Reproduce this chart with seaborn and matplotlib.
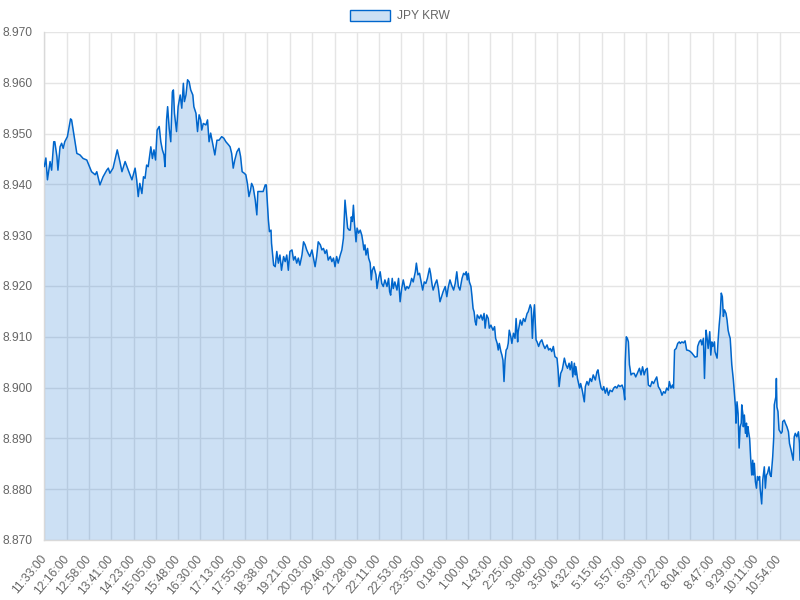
"""
JPY/KRW intraday rate, filled line chart.
"""

import matplotlib
matplotlib.use("Agg")
import matplotlib.pyplot as plt
from matplotlib.patches import Patch
import seaborn as sns
import pandas as pd

# minutes elapsed since 11:33:00 and the rate read at that moment
elapsed_min = [
    0, 3, 6, 11, 14, 18, 20, 24, 26, 30,
    33, 36, 39, 44, 50, 52, 55, 62, 68, 74,
    81, 90, 97, 100, 106, 112, 119, 122, 125, 131,
    139, 144, 148, 154, 160, 167, 173, 176, 179, 182,
    186, 189, 192, 195, 198, 203, 206, 209, 212, 215,
    219, 222, 225, 228, 230, 233, 235, 238, 241, 244,
    246, 248, 252, 255, 259, 262, 265, 267, 270, 273,
    276, 279, 283, 285, 289, 292, 295, 298, 300, 303,
    308, 311, 314, 317, 322, 325, 329, 333, 338, 342,
    346, 351, 354, 357, 360, 363, 367, 371, 374, 377,
    381, 384, 387, 390, 393, 395, 398, 402, 405, 407,
    411, 417, 421, 423, 425, 427, 429, 432, 433, 437,
    440, 443, 446, 449, 452, 456, 459, 462, 465, 468,
    472, 475, 478, 481, 484, 487, 491, 494, 497, 500,
    503, 506, 510, 513, 516, 519, 522, 526, 529, 532,
    535, 538, 541, 545, 548, 551, 554, 557, 560, 564,
    567, 570, 573, 575, 578, 581, 583, 585, 587, 589,
    591, 594, 596, 599, 602, 605, 607, 609, 611, 613,
    616, 618, 621, 623, 625, 628, 632, 634, 637, 640,
    643, 646, 649, 653, 656, 658, 660, 663, 665, 668,
    672, 675, 678, 681, 684, 688, 691, 694, 697, 700,
    703, 707, 709, 712, 715, 718, 721, 724, 727, 730,
    734, 736, 739, 741, 745, 748, 751, 754, 757, 760,
    764, 767, 770, 773, 776, 780, 783, 786, 789, 792,
    796, 799, 802, 804, 806, 808, 810, 813, 815, 817,
    819, 821, 823, 825, 829, 832, 835, 838, 840, 843,
    846, 848, 851, 855, 858, 860, 863, 865, 867, 870,
    872, 874, 876, 878, 880, 882, 884, 886, 889, 891,
    894, 897, 899, 902, 903, 907, 910, 913, 916, 920,
    922, 926, 928, 930, 932, 934, 937, 939, 942, 945,
    948, 951, 954, 958, 961, 964, 967, 970, 973, 977,
    979, 981, 984, 987, 991, 994, 997, 1000, 1002, 1005,
    1007, 1010, 1012, 1013, 1016, 1018, 1020, 1022, 1025, 1029,
    1031, 1034, 1037, 1040, 1043, 1046, 1050, 1053, 1055, 1058,
    1061, 1064, 1066, 1069, 1072, 1075, 1078, 1082, 1085, 1088,
    1091, 1094, 1097, 1101, 1104, 1106, 1107, 1109, 1111, 1113,
    1115, 1118, 1121, 1124, 1127, 1130, 1134, 1137, 1140, 1143,
    1146, 1149, 1151, 1155, 1158, 1161, 1164, 1167, 1170, 1174,
    1177, 1180, 1183, 1186, 1189, 1191, 1194, 1197, 1199, 1201,
    1204, 1207, 1210, 1212, 1215, 1218, 1221, 1224, 1228, 1231,
    1234, 1237, 1240, 1244, 1245, 1248, 1251, 1253, 1256, 1258,
    1261, 1263, 1265, 1268, 1270, 1272, 1274, 1277, 1278, 1282,
    1284, 1286, 1288, 1290, 1292, 1294, 1296, 1299, 1301, 1303,
    1305, 1307, 1310, 1313, 1315, 1317, 1318, 1320, 1322, 1324,
    1326, 1328, 1329, 1331, 1332, 1334, 1336, 1338, 1339, 1341,
    1342, 1344, 1346, 1348, 1350, 1351, 1353, 1355, 1357, 1359,
    1361, 1363, 1364, 1367, 1369, 1372, 1374, 1376, 1378, 1381,
    1383, 1385, 1388, 1390, 1391, 1394, 1395, 1396, 1398, 1400,
    1404, 1406, 1407, 1410, 1412, 1415, 1418, 1420, 1423, 1425,
    1427, 1429, 1431, 1434, 1437, 1439, 1440,
]

rate = [
    8.9435, 8.9452, 8.9409, 8.9445, 8.9428, 8.9484, 8.9484, 8.9455, 8.9428, 8.9474,
    8.9481, 8.9471, 8.9484, 8.9494, 8.9529, 8.9527, 8.9507, 8.9461, 8.9458, 8.9451,
    8.9448, 8.9425, 8.9419, 8.9425, 8.9399, 8.9415, 8.9428, 8.9432, 8.9422, 8.9432,
    8.9468, 8.9445, 8.9425, 8.9445, 8.9428, 8.9409, 8.9432, 8.9409, 8.9376, 8.9402,
    8.9382, 8.9415, 8.9412, 8.9438, 8.9435, 8.9474, 8.9451, 8.9468, 8.9448, 8.9507,
    8.9514, 8.9484, 8.9468, 8.9458, 8.9435, 8.9527, 8.9553, 8.9510, 8.9484, 8.9582,
    8.9586, 8.9540, 8.9504, 8.9553, 8.9576, 8.9550, 8.9599, 8.9563, 8.9576, 8.9606,
    8.9602, 8.9586, 8.9576, 8.9553, 8.9540, 8.9504, 8.9537, 8.9527, 8.9507, 8.9520,
    8.9517, 8.9527, 8.9484, 8.9501, 8.9474, 8.9458, 8.9487, 8.9487, 8.9494, 8.9491,
    8.9484, 8.9478, 8.9474, 8.9461, 8.9432, 8.9448, 8.9464, 8.9471, 8.9455, 8.9425,
    8.9422, 8.9419, 8.9402, 8.9376, 8.9389, 8.9402, 8.9395, 8.9369, 8.9340, 8.9386,
    8.9386, 8.9386, 8.9399, 8.9399, 8.9363, 8.9330, 8.9307, 8.9310, 8.9284, 8.9241,
    8.9238, 8.9268, 8.9245, 8.9261, 8.9231, 8.9258, 8.9248, 8.9261, 8.9231, 8.9268,
    8.9271, 8.9251, 8.9258, 8.9245, 8.9255, 8.9241, 8.9261, 8.9287, 8.9281, 8.9271,
    8.9264, 8.9258, 8.9271, 8.9255, 8.9238, 8.9258, 8.9287, 8.9281, 8.9271, 8.9274,
    8.9264, 8.9271, 8.9251, 8.9258, 8.9248, 8.9255, 8.9238, 8.9258, 8.9245, 8.9261,
    8.9271, 8.9294, 8.9369, 8.9346, 8.9314, 8.9310, 8.9310, 8.9336, 8.9327, 8.9359,
    8.9323, 8.9287, 8.9314, 8.9304, 8.9310, 8.9300, 8.9287, 8.9271, 8.9281, 8.9261,
    8.9274, 8.9255, 8.9245, 8.9212, 8.9231, 8.9238, 8.9222, 8.9195, 8.9215, 8.9228,
    8.9205, 8.9199, 8.9212, 8.9199, 8.9215, 8.9189, 8.9182, 8.9215, 8.9195, 8.9208,
    8.9192, 8.9215, 8.9169, 8.9195, 8.9212, 8.9192, 8.9199, 8.9195, 8.9202, 8.9215,
    8.9208, 8.9228, 8.9245, 8.9222, 8.9225, 8.9208, 8.9192, 8.9208, 8.9205, 8.9215,
    8.9235, 8.9225, 8.9202, 8.9192, 8.9205, 8.9212, 8.9195, 8.9169, 8.9179, 8.9189,
    8.9199, 8.9179, 8.9199, 8.9212, 8.9202, 8.9192, 8.9205, 8.9228, 8.9199, 8.9192,
    8.9215, 8.9225, 8.9222, 8.9228, 8.9212, 8.9225, 8.9208, 8.9199, 8.9179, 8.9156,
    8.9149, 8.9130, 8.9123, 8.9143, 8.9136, 8.9143, 8.9133, 8.9146, 8.9117, 8.9143,
    8.9136, 8.9117, 8.9123, 8.9113, 8.9120, 8.9097, 8.9087, 8.9074, 8.9087, 8.9071,
    8.9064, 8.9054, 8.9012, 8.9054, 8.9074, 8.9077, 8.9087, 8.9113, 8.9100, 8.9087,
    8.9107, 8.9097, 8.9136, 8.9090, 8.9110, 8.9133, 8.9123, 8.9136, 8.9130, 8.9146,
    8.9149, 8.9163, 8.9156, 8.9097, 8.9140, 8.9163, 8.9094, 8.9090, 8.9081, 8.9090,
    8.9094, 8.9084, 8.9077, 8.9084, 8.9074, 8.9077, 8.9071, 8.9081, 8.9061, 8.9058,
    8.9035, 8.9002, 8.9028, 8.9035, 8.9058, 8.9045, 8.9038, 8.9048, 8.9035, 8.9051,
    8.9021, 8.9048, 8.9025, 8.9041, 8.9018, 8.9008, 8.8999, 8.9008, 8.8995, 8.8972,
    8.9002, 8.9012, 8.9005, 8.9018, 8.9012, 8.9025, 8.9015, 8.9031, 8.9035, 8.9015,
    8.8999, 8.8995, 8.9002, 8.8989, 8.8999, 8.8985, 8.8995, 8.8992, 8.8999, 8.9002,
    8.8999, 8.9005, 8.9002, 8.9005, 8.8995, 8.8976, 8.9051, 8.9100, 8.9097, 8.9090,
    8.9045, 8.9025, 8.9028, 8.9028, 8.9021, 8.9028, 8.9038, 8.9025, 8.9041, 8.9025,
    8.9035, 8.9038, 8.9005, 8.9002, 8.9012, 8.9008, 8.9015, 8.9021, 8.9002, 8.8995,
    8.8985, 8.8992, 8.8989, 8.8999, 8.8995, 8.9012, 8.8999, 8.9005, 8.8999, 8.9074,
    8.9077, 8.9087, 8.9090, 8.9087, 8.9090, 8.9088, 8.9092, 8.9074, 8.9073, 8.9071,
    8.9068, 8.9064, 8.9060, 8.9061, 8.9081, 8.9090, 8.9094, 8.9084, 8.9097, 8.9018,
    8.9113, 8.9097, 8.9077, 8.9110, 8.9064, 8.9090, 8.9081, 8.9090, 8.9071, 8.9058,
    8.9094, 8.9123, 8.9146, 8.9186, 8.9179, 8.9140, 8.9153, 8.9146, 8.9133, 8.9113,
    8.9104, 8.9097, 8.9045, 8.9015, 8.8989, 8.8962, 8.8930, 8.8972, 8.8949, 8.8881,
    8.8923, 8.8930, 8.8966, 8.8949, 8.8923, 8.8946, 8.8910, 8.8930, 8.8903, 8.8923,
    8.8913, 8.8900, 8.8861, 8.8828, 8.8857, 8.8828, 8.8851, 8.8815, 8.8802, 8.8825,
    8.8818, 8.8825, 8.8802, 8.8771, 8.8818, 8.8844, 8.8802, 8.8828, 8.8831, 8.8844,
    8.8828, 8.8825, 8.8864, 8.8903, 8.8966, 8.8982, 8.9018, 8.8962, 8.8953, 8.8917,
    8.8910, 8.8913, 8.8933, 8.8936, 8.8930, 8.8923, 8.8913, 8.8890, 8.8877, 8.8867,
    8.8857, 8.8903, 8.8910, 8.8903, 8.8913, 8.8890, 8.8857,
]

tick_labels = [
    "11:33:00", "12:16:00", "12:58:00", "13:41:00", "14:23:00", "15:05:00",
    "15:48:00", "16:30:00", "17:13:00", "17:55:00", "18:38:00", "19:21:00",
    "20:03:00", "20:46:00", "21:28:00", "22:11:00", "22:53:00", "23:35:00",
    "0:18:00", "1:00:00", "1:43:00", "2:25:00", "3:08:00", "3:50:00",
    "4:32:00", "5:15:00", "5:57:00", "6:39:00", "7:22:00", "8:04:00",
    "8:47:00", "9:29:00", "10:11:00", "10:54:00",
]

series_name = "JPY KRW"
y_ticks = [8.870, 8.880, 8.890, 8.900, 8.910, 8.920, 8.930, 8.940, 8.950, 8.960, 8.970]

LINE = "#0066cc"
FILL = (0.0, 0.4, 0.8, 0.2)
GRID = "#e5e5e5"
TEXT = "#666666"
PX = 0.72  # points per pixel at dpi 100


def to_elapsed(label):
    h, m, _ = (int(p) for p in label.split(":"))
    return (h * 60 + m - (11 * 60 + 33)) % 1440


df = pd.DataFrame({"elapsed": elapsed_min, "rate": rate})

sns.set_style("white")
plt.rcParams["font.family"] = ["Liberation Sans", "DejaVu Sans"]

fig = plt.figure(figsize=(8, 6), dpi=100)
ax = fig.add_axes([44.3 / 800, 60 / 600, (800 - 44.3) / 800, 508 / 600])

ax.fill_between(df["elapsed"], df["rate"], y_ticks[0], color=FILL, linewidth=0, zorder=2)
sns.lineplot(data=df, x="elapsed", y="rate", ax=ax, color=LINE, linewidth=1.1,
             estimator=None, sort=False, zorder=3)

ax.set_xlim(0, 1440)
ax.set_ylim(y_ticks[0], y_ticks[-1])
ax.set_xlabel("")
ax.set_ylabel("")

ax.set_yticks(y_ticks)
ax.set_yticklabels([f"{v:.3f}" for v in y_ticks])
ax.set_xticks([to_elapsed(t) for t in tick_labels])
ax.set_xticklabels(tick_labels, rotation=50, ha="right", va="center",
                   rotation_mode="anchor")

ax.grid(True, color=GRID, linewidth=1, alpha=1)
ax.set_axisbelow(True)
ax.tick_params(axis="both", length=9 * PX, width=1, color=GRID, labelcolor=TEXT,
               labelsize=12 * PX)
ax.tick_params(axis="y", pad=3 * PX)
ax.tick_params(axis="x", pad=8 * PX)

for side in ["top", "right"]:
    ax.spines[side].set_visible(False)
for side in ["left", "bottom"]:
    ax.spines[side].set_color("#d9d9d9")
    ax.spines[side].set_linewidth(1)

handle = Patch(facecolor=FILL, edgecolor=LINE, linewidth=1)
fig.legend(handles=[handle], labels=[series_name], loc="center",
           bbox_to_anchor=(0.5, 1 - 16 / 600), frameon=False,
           handlelength=3.33, handleheight=1.0, handletextpad=0.55,
           fontsize=12 * PX, labelcolor=TEXT)

fig.savefig("out.png", dpi=100)
plt.close(fig)
